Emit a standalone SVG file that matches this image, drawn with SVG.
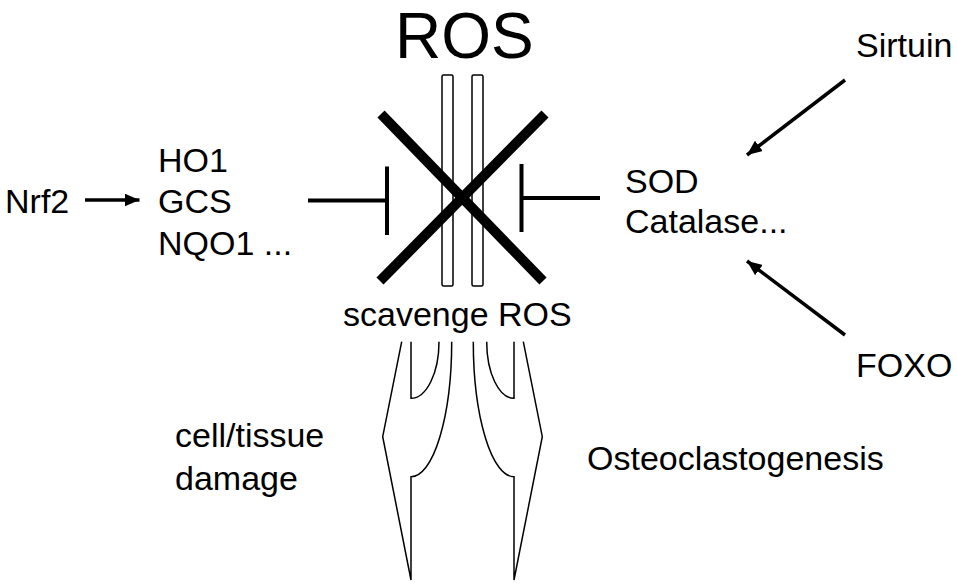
<svg xmlns="http://www.w3.org/2000/svg" width="957" height="587" viewBox="0 0 957 587">
<style>
text{font-family:"Liberation Sans",Arial,Helvetica,sans-serif;font-size:34px;fill:#000}
.big{font-size:64px}
.thin{fill:none;stroke:#000;stroke-width:1.5;stroke-linejoin:miter}
.cross{stroke:#000;stroke-width:10;fill:none}
.inh{stroke:#000;stroke-width:4;fill:none}
.arr{stroke:#000;stroke-width:3.5;fill:none;marker-end:url(#ah)}
</style>
<defs>
<marker id="ah" markerUnits="userSpaceOnUse" markerWidth="16" markerHeight="13" refX="15" refY="6.5" orient="auto">
<path d="M0,0 L15,6.5 L0,13 z" fill="#000"/>
</marker>
</defs>
<g id="ros-title"><text class="big" x="395" y="58">ROS</text></g>
<g id="ros-core">
<rect class="thin" x="442" y="75" width="11" height="211" rx="1.5"/>
<rect class="thin" x="472" y="75" width="11" height="211" rx="1.5"/>
<line class="cross" x1="381" y1="114" x2="543" y2="281"/>
<line class="cross" x1="545" y1="114" x2="380" y2="281"/>
</g>
<g id="scavenge"><text x="343" y="326">scavenge ROS</text></g>
<g id="forks">
<path class="thin" d="M401.7,341.7 L382.7,436.7 L411,580 L411,476.7 A40.7,135 0 0 0 451.7,341.7"/>
<path class="thin" d="M411,341.7 L411,398.3 A28,56.6 0 0 0 439,341.7"/>
<path class="thin" d="M523.3,341.7 L542.3,436.7 L514,580 L514,476.7 A40.7,135 0 0 1 473.3,341.7"/>
<path class="thin" d="M514,341.7 L514,398.3 A27.3,56.6 0 0 1 486.7,341.7"/>
</g>
<g id="nrf2"><text x="5" y="213">Nrf2</text></g>
<g id="enzymes-left">
<text x="158" y="172">HO1</text>
<text x="158" y="213">GCS</text>
<text x="158" y="255">NQO1 ...</text>
</g>
<g id="enzymes-right">
<text x="625" y="193">SOD</text>
<text x="625" y="233">Catalase...</text>
</g>
<g id="sirtuin"><text x="856" y="57">Sirtuin</text></g>
<g id="foxo"><text x="856" y="377">FOXO</text></g>
<g id="damage"><text x="175" y="447">cell/tissue</text><text x="175" y="490">damage</text></g>
<g id="osteo"><text x="587" y="470">Osteoclastogenesis</text></g>
<g id="connectors">
<line class="arr" x1="85" y1="200" x2="139.5" y2="200"/>
<line class="arr" x1="845" y1="80" x2="747" y2="155"/>
<line class="arr" x1="845" y1="335" x2="747" y2="261"/>
<path class="inh" d="M308,200.5 H387 M387,166.5 V235"/>
<path class="inh" d="M600,198 H521.5 M521.5,164 V232"/>
</g>
</svg>
